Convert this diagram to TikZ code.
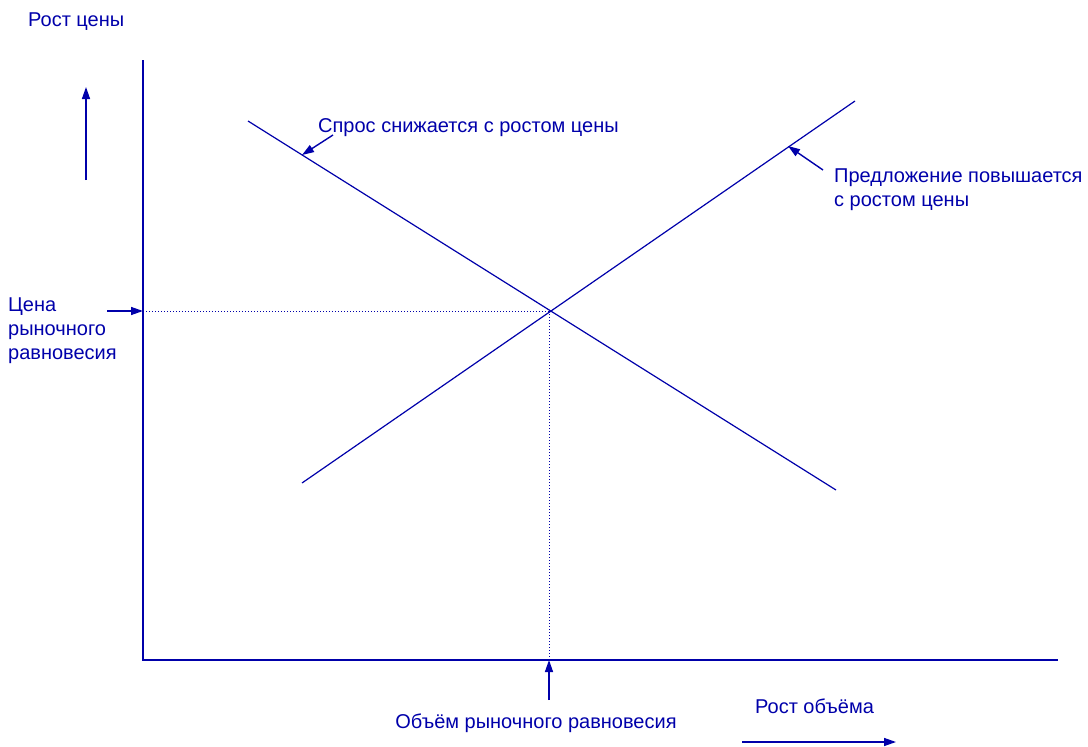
\documentclass[tikz,border=0pt]{standalone}
\usepackage{fontspec}
\setmainfont{Liberation Sans}
\usetikzlibrary{arrows.meta}
\definecolor{lineblue}{RGB}{0,0,170}

\begin{document}
\begin{tikzpicture}
        [x=1pt,y=-1pt,every node/.style={inner sep=0pt,text=lineblue,font=\fontsize{20}{24}\selectfont},
        curve/.style={draw=lineblue,line width=1.2pt},
        axis/.style={draw=lineblue,line width=1.5pt},
        guide/.style={draw=lineblue,line width=1pt,dotted},
        pointer/.style={draw=lineblue,line width=1.4pt,-{Triangle[length=12pt,width=8pt]}}]
        \useasboundingbox (0,0) rectangle (1088,747);

        % axes
        \coordinate (o) at (143,660);
        \coordinate (ytop) at (143,60);
        \coordinate (xend) at (1058,660);
        \draw[axis] (ytop) -- (o) -- (xend);

        % demand and supply
        \coordinate (d1) at (248,121);
        \coordinate (d2) at (836,490);
        \coordinate (s1) at (302,483);
        \coordinate (s2) at (855,101);
        \coordinate (eq) at (549,311);
        \draw[curve] (d1) -- (d2);
        \draw[curve] (s1) -- (s2);

        % equilibrium guides
        \coordinate (py) at (143,311);
        \coordinate (qx) at (549,660);
        \draw[guide] (py) -- (eq);
        \draw[guide] (eq) -- (qx);

        % labels
        \node[anchor=base west] (price) at (28,26) {Рост цены};
        \node[anchor=base west] (volume) at (755,713) {Рост объёма};
        \node[anchor=base west] (demand) at (318,132) {Спрос снижается с ростом цены};
        \node[anchor=north west,align=left] (supply) at (834,168.7) {Предложение повышается\\с ростом цены};
        \node[anchor=north west,align=left] (eqprice) at (8,297.7) {Цена\\рыночного\\равновесия};
        \node[anchor=base] (eqvolume) at (536,728) {Объём рыночного равновесия};

        % arrows
        \coordinate (pa1) at (86,180);
        \coordinate (pa2) at (86,87);
        \coordinate (va1) at (742,742);
        \coordinate (va2) at (896,742);
        \coordinate (ea1) at (107,311);
        \coordinate (qa1) at (549,700);
        \coordinate (dp1) at (333,135);
        \coordinate (dp2) at (302,155);
        \coordinate (sp1) at (823,170);
        \coordinate (sp2) at (788,146);
        \draw[pointer] (pa1) -- (pa2);
        \draw[pointer] (va1) -- (va2);
        \draw[pointer] (ea1) -- (py);
        \draw[pointer] (qa1) -- (qx);
        \draw[pointer] (dp1) -- (dp2);
        \draw[pointer] (sp1) -- (sp2);
    \end{tikzpicture}
\end{document}
